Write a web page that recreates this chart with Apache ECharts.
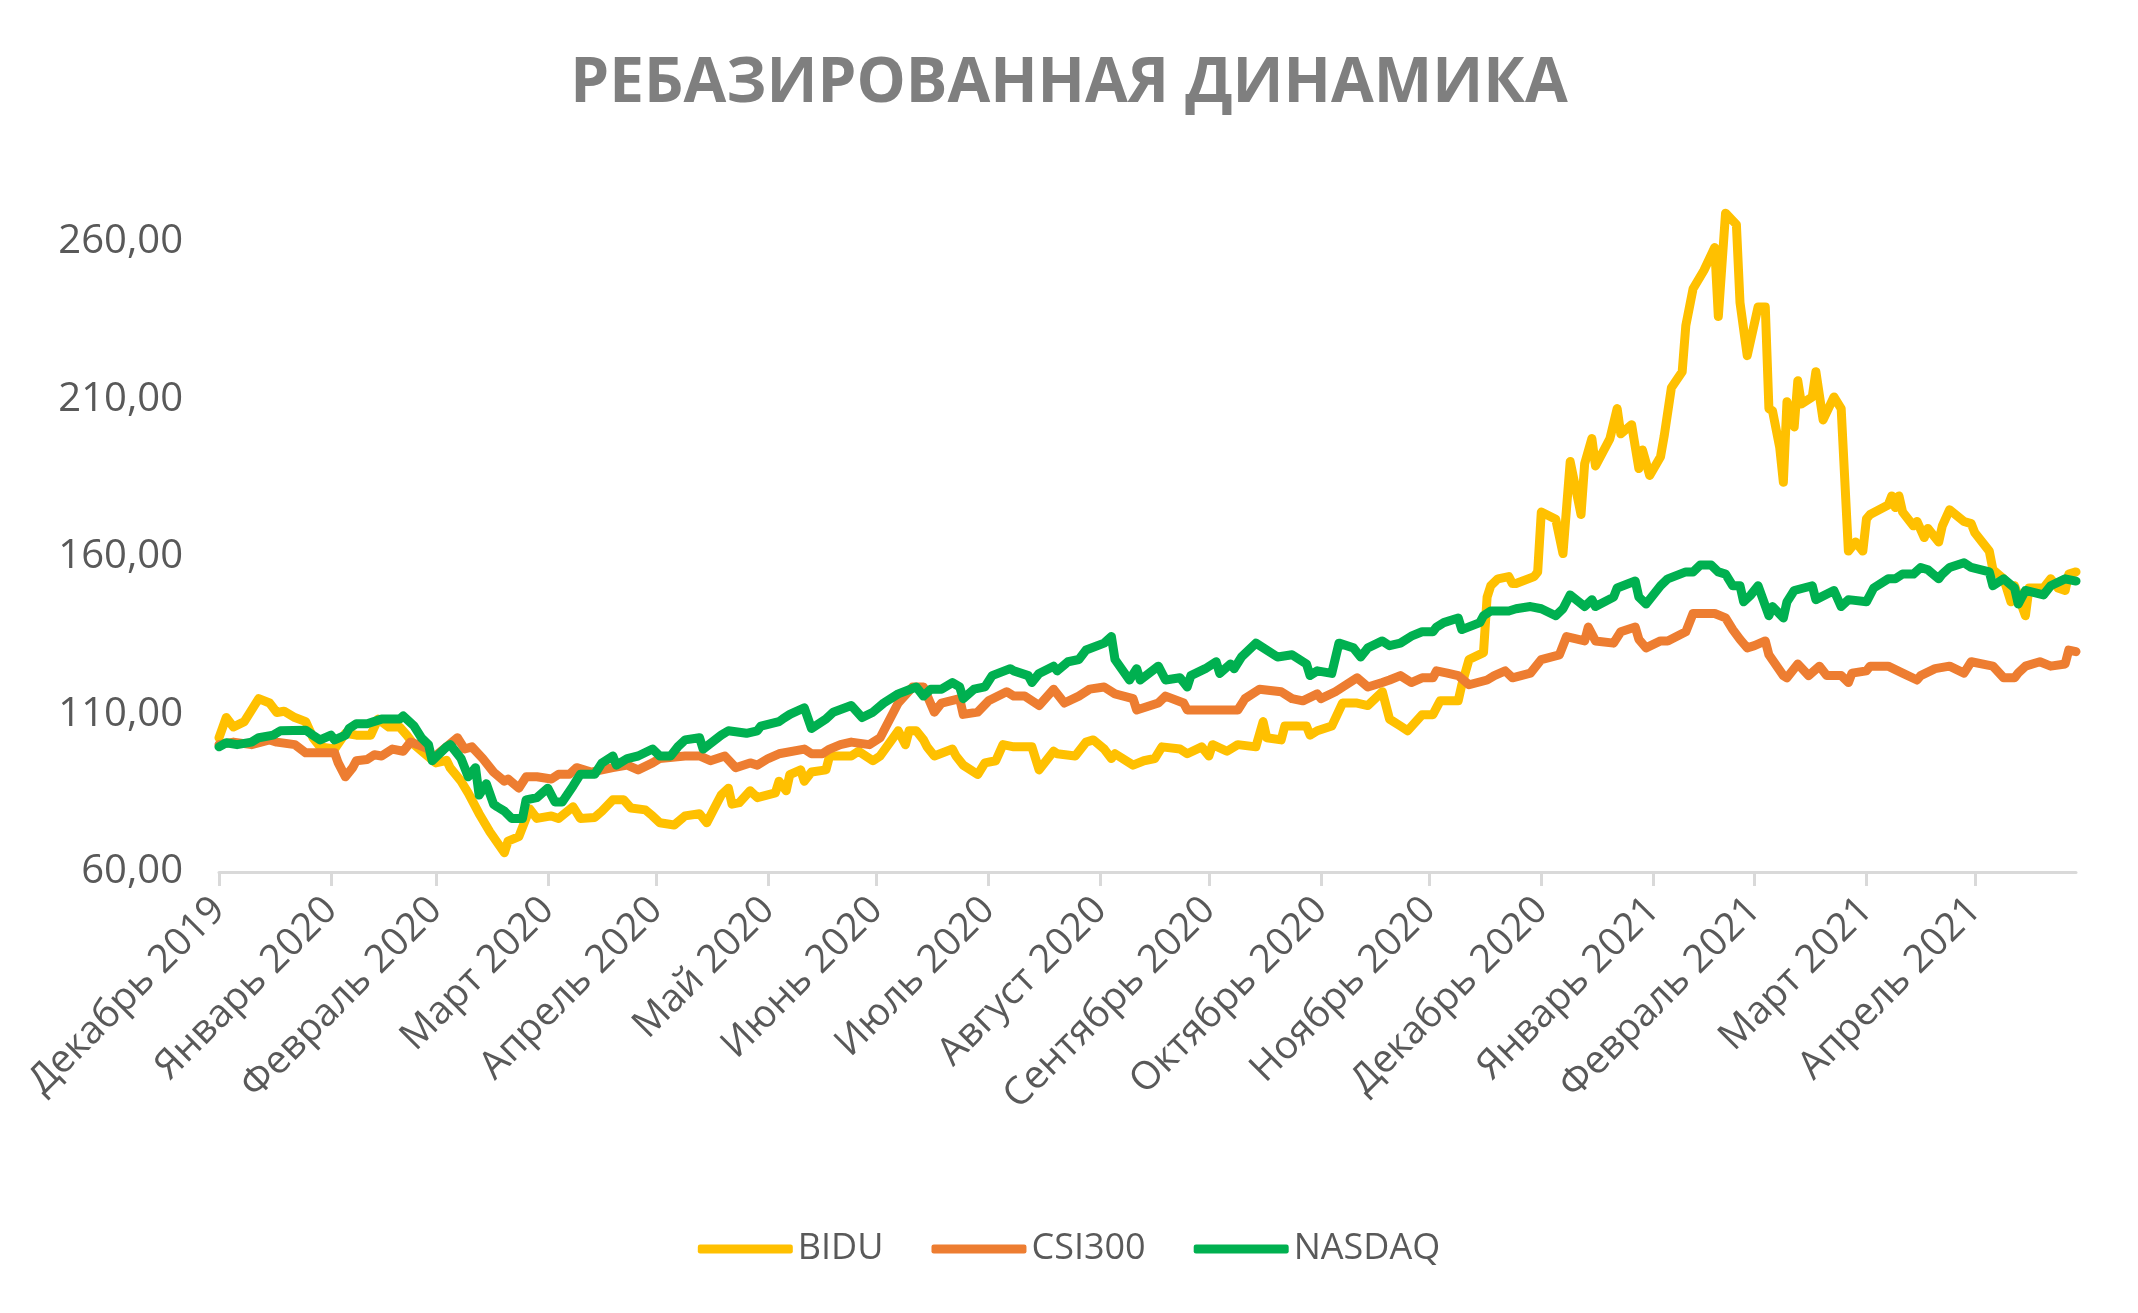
<!DOCTYPE html>
<html lang="ru">
<head>
<meta charset="UTF-8">
<title>Ребазированная динамика</title>
<script src="https://cdn.jsdelivr.net/npm/echarts@6/dist/echarts.min.js"></script>
<style>
    html, body { margin: 0; padding: 0; background: #fff; }
    #main { width: 2138px; height: 1313px; }
</style>
</head>
<body>
<div id="main"></div>
<script>
    // ось X: календарные дни начиная с 31.12.2019
    const startDate = Date.UTC(2019, 11, 31);
    const dayCount = 515;
    const monthNames = ['Январь', 'Февраль', 'Март', 'Апрель', 'Май', 'Июнь',
        'Июль', 'Август', 'Сентябрь', 'Октябрь', 'Ноябрь', 'Декабрь'];
    const yTicks = [60, 110, 160, 210, 260];

    // [день от начала, значение]
    const bidu = [[0,102.6],[2,109],[4,106],[7,107.7],[11,115],[14,113.6],[16,110.6],[18,111],[21,109],[24,107.7],[26,102.6],[28,99.7],[32,99],[35,104],[38,103.4],[42,103.4],[44,108.5],[47,106],[50,106],[52,103.4],[54,100.4],[57,97.5],[60,94.6],[63,95.4],[64,93],[67,88.8],[69,85],[72,78.5],[75,72.7],[79,66.1],[80,69.8],[83,71.2],[86,80],[88,77],[92,77.8],[94,77],[98,80.7],[100,77],[104,77.3],[106,79.3],[109,82.9],[112,82.9],[114,80.3],[118,79.7],[120,77.8],[122,75.6],[126,74.9],[129,77.8],[133,78.5],[135,75.6],[137,80],[139,84.4],[141,86.6],[142,81.5],[144,82],[147,85.8],[149,83.6],[154,85.1],[155,88.8],[157,85.8],[158,90.9],[161,92.4],[162,88.8],[164,91.7],[168,92.4],[169,96.8],[175,96.8],[177,98.3],[181,95.3],[183,96.8],[188,104.8],[190,100.4],[191,104.8],[193,104.8],[195,101.9],[196,99.7],[198,96.8],[203,99],[204,96.8],[206,93.9],[210,90.9],[212,94.6],[215,95.3],[217,100.4],[220,99.7],[225,99.7],[227,92.4],[231,98.3],[232,97.5],[237,96.8],[240,101.2],[242,101.9],[245,99],[247,96],[248,97.5],[253,93.9],[256,95.3],[259,96],[261,99.7],[266,99],[268,97.5],[272,99.7],[274,96.8],[275,100.4],[279,98.3],[282,100.4],[287,99.7],[289,107.7],[290,102.6],[294,101.9],[295,106.3],[301,106.3],[302,103.4],[304,104.8],[308,106.3],[311,113.6],[315,113.6],[318,112.8],[322,117.2],[324,108.5],[327,106.3],[329,104.8],[333,109.9],[336,109.9],[338,114.3],[343,114.3],[344,119.4],[346,127.4],[350,129.6],[351,147.2],[352,150.8],[354,153],[357,153.7],[358,151.5],[359,151.5],[364,153.7],[365,155.2],[366,174.2],[370,171.9],[372,161],[374,190.2],[377,173.4],[378,189.5],[380,197.5],[381,188.8],[385,197.5],[387,207],[388,199],[391,201.9],[393,188],[394,193.9],[396,185.8],[399,191.7],[400,198.2],[402,213.6],[405,218.7],[406,233.3],[408,245],[411,250.8],[414,258.1],[415,236.2],[417,269],[420,265.4],[421,240.6],[423,223.8],[426,239.2],[428,239.2],[429,207],[430,206.3],[432,194.6],[433,183.6],[434,209.2],[436,201.2],[437,215.8],[438,208.5],[441,210.7],[442,218.7],[444,203.4],[447,210.7],[449,207],[451,161.8],[453,164.7],[455,161.8],[456,172],[457,173.4],[462,176.4],[463,179.3],[464,175.6],[465,179.3],[466,174.2],[469,169.8],[470,171.2],[472,166.1],[473,169],[476,164.7],[477,169.8],[479,174.9],[483,171.2],[485,170.5],[486,167.6],[490,161.8],[491,155.9],[494,153],[496,145.7],[497,150.8],[500,141.3],[501,150.1],[505,150.1],[507,153],[509,150.1],[511,149.3],[512,154.5],[514,155.2]];

    const csi300 = [[0,100.4],[4,101.2],[9,100.4],[14,101.9],[16,101.2],[21,100.4],[24,97.8],[32,97.8],[33,94.6],[35,90.2],[37,93.1],[38,95.3],[41,95.7],[43,97.2],[45,96.8],[48,99],[51,98.3],[53,101.2],[55,100.4],[58,99],[59,96],[63,99.7],[66,102.6],[68,99],[70,99.7],[73,96],[76,91.7],[79,88.8],[80,89.5],[83,86.6],[85,90.2],[88,90.2],[92,89.5],[94,91],[97,91],[99,93.1],[103,91.7],[106,92.4],[109,93.1],[113,93.9],[116,92.4],[120,94.6],[122,96],[129,96.8],[133,96.8],[136,95.3],[140,96.8],[143,93.1],[147,94.6],[149,93.9],[152,96],[155,97.5],[162,99],[164,97.5],[167,97.5],[169,99],[172,100.4],[175,101.2],[180,100.4],[183,102.6],[188,113.6],[192,118.7],[195,118.7],[198,110.7],[200,113.6],[205,115],[206,110],[210,110.7],[213,114.3],[218,117.2],[220,115.8],[223,115.8],[227,112.8],[231,118],[234,113.6],[238,115.8],[241,118],[245,118.7],[248,116.5],[253,115],[254,111.4],[260,113.6],[262,115.8],[267,113.6],[268,111.4],[282,111.4],[284,115],[288,118],[294,117.2],[297,115],[300,114.3],[304,116.5],[305,115],[309,117.2],[312,119.4],[315,121.6],[318,118.7],[322,120.1],[324,120.9],[327,122.3],[330,120.1],[333,121.6],[336,121.6],[337,123.8],[340,123.1],[343,122.3],[346,119.4],[351,120.9],[353,122.3],[356,123.8],[358,121.6],[363,123.1],[366,127.4],[371,128.9],[373,134.7],[378,133.3],[379,137.7],[381,133.3],[386,132.6],[388,136.2],[392,137.7],[393,133.8],[395,131.1],[399,133.3],[401,133.3],[406,136.2],[408,142],[414,142],[417,140.6],[419,136.9],[421,133.8],[423,131.1],[425,131.8],[428,133.3],[429,128.9],[433,122.3],[434,121.6],[437,126],[440,122.3],[443,125.3],[445,122.3],[449,122.3],[451,120.1],[452,123.1],[456,123.8],[457,125.3],[462,125.3],[466,123.1],[470,120.9],[471,122.3],[475,124.5],[479,125.3],[483,123.1],[485,126.7],[491,125.3],[494,121.6],[497,121.6],[498,123.1],[500,125.3],[504,126.7],[507,125.3],[511,126],[512,130.4],[514,129.9]];

    const nasdaq = [[0,99.7],[2,101],[5,100.4],[9,101.2],[11,102.6],[15,103.4],[17,104.8],[24,105],[26,103.4],[28,101.9],[31,103.4],[32,101.9],[35,103.4],[36,105.5],[38,107],[41,107],[45,108.5],[50,108.5],[51,109.5],[54,106.3],[56,102.6],[58,100.4],[59,95.3],[61,97.5],[63,99.7],[64,100.4],[67,96],[69,90.2],[71,93.1],[72,84.4],[74,88],[76,81.5],[77,80.7],[79,79.3],[81,77],[84,77],[85,82.9],[88,83.6],[91,86.6],[93,82.2],[95,82.2],[98,87.3],[100,91],[104,91],[106,94.6],[109,96.8],[110,93.9],[113,96],[116,96.8],[120,99],[122,96.8],[125,96.8],[127,99.7],[129,101.9],[133,102.6],[134,99],[139,103.4],[141,104.8],[146,104],[149,104.8],[150,106.3],[155,107.7],[156,108.5],[158,110],[162,112.1],[164,105.5],[168,108.5],[170,110.7],[175,112.8],[178,109],[181,110.7],[184,113.6],[188,116.5],[193,118.7],[195,115.8],[197,118],[200,118],[203,120.1],[205,118.7],[206,115],[209,118],[212,118.7],[214,122.3],[219,124.5],[220,123.8],[224,122.3],[225,120.1],[227,123],[231,125.3],[232,123.8],[235,126.7],[238,127.4],[240,130.4],[245,132.6],[247,134.7],[248,127.4],[252,120.9],[254,124.5],[255,120.9],[260,125.3],[262,120.9],[266,121.6],[268,118.7],[269,122.3],[273,124.5],[276,126.7],[277,123],[280,126],[281,124.5],[283,128.2],[287,132.6],[293,128.2],[297,128.9],[301,126],[302,122.3],[304,123.8],[308,123],[310,132.6],[314,131.1],[316,128.2],[318,131.1],[322,133.3],[324,131.8],[327,132.6],[330,134.8],[333,136.2],[336,136.2],[337,137.7],[339,139.1],[343,140.6],[344,136.9],[349,139.1],[350,141.3],[352,142.8],[357,142.8],[359,143.5],[363,144.2],[366,143.5],[370,141.3],[372,143.5],[374,147.9],[378,144.2],[380,146.4],[381,144.2],[386,147.2],[387,150.1],[392,152.3],[393,147.2],[395,145],[399,150.8],[401,153],[406,155.2],[408,155.2],[410,157.4],[413,157.4],[415,155.2],[417,154.5],[419,150.8],[421,150.8],[422,145.7],[424,147.9],[426,150.8],[429,141.3],[430,144.2],[433,140.6],[434,145.7],[436,149.3],[441,150.8],[442,146.4],[447,149.3],[449,144.2],[451,146.4],[456,145.7],[458,150.1],[462,153],[464,153],[466,154.5],[469,154.5],[471,156.6],[473,155.9],[476,153],[477,154.5],[479,156.6],[483,158.1],[485,156.6],[490,155.2],[491,150.8],[494,153],[497,150.1],[498,145],[500,149.3],[505,147.9],[507,150.8],[511,153],[514,152.3]];

    // даты для категорий
    function dayToDate(i) {
        return new Date(startDate + i * 86400000);
    }
    let categories = [];
    for (let i = 0; i < dayCount; i++) {
        categories.push(dayToDate(i).toISOString().slice(0, 10));
    }
    // деления в последний день месяца
    function isMonthEnd(index) {
        return dayToDate(index + 1).getUTCDate() === 1;
    }

    const font = '"Open Sans", "Noto Sans", sans-serif';
    const textColor = '#595959';

    let option = {
        animation: false,
        backgroundColor: '#fff',
        textStyle: { fontFamily: font },
        title: {
            text: 'РЕБАЗИРОВАННАЯ ДИНАМИКА',
            left: 'center',
            top: 48,
            textStyle: { fontFamily: font, fontSize: 62, fontWeight: 'bold', color: '#7F7F7F' }
        },
        legend: {
            left: 'center',
            top: 1226,
            icon: 'roundRect',
            itemWidth: 95,
            itemHeight: 9,
            itemGap: 48,
            textStyle: { fontFamily: font, fontSize: 36, color: textColor }
        },
        grid: { left: 219, right: 62, top: 210, bottom: 441, containLabel: false },
        xAxis: {
            type: 'category',
            boundaryGap: false,
            data: categories,
            axisLine: { lineStyle: { color: '#D9D9D9', width: 3 } },
            axisTick: {
                show: true,
                interval: function (index) { return index === 0 || isMonthEnd(index); },
                length: 14,
                lineStyle: { color: '#D9D9D9', width: 3 }
            },
            axisLabel: {
                interval: function (index) { return index === 0 || isMonthEnd(index); },
                rotate: 45,
                margin: 32,
                fontSize: 39,
                color: textColor,
                fontFamily: font,
                formatter: function (value) {
                    let d = new Date(value + 'T00:00:00Z');
                    return monthNames[d.getUTCMonth()] + ' ' + d.getUTCFullYear();
                }
            },
            splitLine: { show: false }
        },
        yAxis: {
            type: 'value',
            min: 60,
            max: 270,
            interval: 50,
            axisLine: { show: false },
            axisTick: { show: false },
            splitLine: { show: false },
            axisLabel: {
                margin: 36,
                fontSize: 40,
                color: textColor,
                fontFamily: font,
                formatter: function (v) {
                    return yTicks.indexOf(v) >= 0 ? v.toFixed(2).replace('.', ',') : '';
                }
            }
        },
        series: [
            { name: 'BIDU', data: bidu, color: '#FFC000' },
            { name: 'CSI300', data: csi300, color: '#ED7D31' },
            { name: 'NASDAQ', data: nasdaq, color: '#00B050' }
        ].map(s => ({
            name: s.name,
            type: 'line',
            data: s.data,
            symbol: 'none',
            showSymbol: false,
            itemStyle: { color: s.color },
            lineStyle: { color: s.color, width: 9, cap: 'round', join: 'round' }
        }))
    };

    let myChart = echarts.init(document.getElementById('main'), null, { renderer: 'canvas' });
    myChart.setOption(option);
</script>
</body>
</html>
